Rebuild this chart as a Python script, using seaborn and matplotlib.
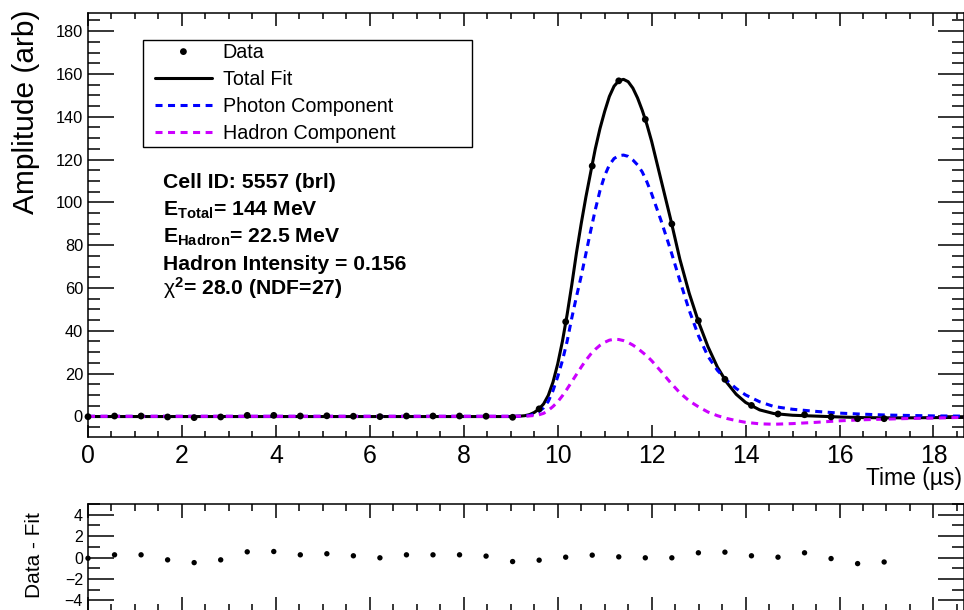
import matplotlib
matplotlib.use("Agg")
import matplotlib.pyplot as plt
import seaborn as sns
from matplotlib.ticker import MultipleLocator, FixedLocator
from matplotlib.patches import Rectangle

# ---- pulse samples (time in µs, amplitude in arbitrary units) ----
sample_time = [0.0, 0.565, 1.13, 1.695, 2.26, 2.825, 3.39, 3.955, 4.52, 5.085,
               5.65, 6.215, 6.78, 7.345, 7.91, 8.475, 9.04, 9.605, 10.17, 10.735,
               11.30, 11.865, 12.43, 12.995, 13.56, 14.125, 14.69, 15.255, 15.82,
               16.385, 16.95]
amplitude = [-0.17, 0.15, 0.15, -0.3, -0.6, -0.3, 0.45, 0.45, 0.15, 0.25,
             0.05, -0.15, 0.15, 0.15, 0.15, 0.05, -0.45, 3.5, 44.2, 117.0,
             156.8, 138.8, 89.9, 44.7, 17.3, 5.1, 1.1, 0.75, -0.25, -1.1,
             -1.1]
residual = [-0.07, 0.25, 0.25, -0.22, -0.48, -0.22, 0.53, 0.56, 0.25, 0.35,
            0.16, -0.03, 0.25, 0.25, 0.25, 0.13, -0.38, -0.25, 0.03, 0.22,
            0.06, -0.03, -0.03, 0.44, 0.5, 0.16, 0.03, 0.44, -0.1, -0.57,
            -0.42]

# ---- fitted pulse shape and its two components ----
fit_time = [0.0, 9.0, 9.2, 9.3, 9.4, 9.5, 9.6, 9.7, 9.8, 9.9,
            10.0, 10.1, 10.2, 10.3, 10.4, 10.5, 10.6, 10.7, 10.8, 10.9,
            11.0, 11.1, 11.2, 11.3, 11.4, 11.5, 11.6, 11.7, 11.8, 11.9,
            12.0, 12.2, 12.4, 12.6, 12.8, 13.0, 13.2, 13.4, 13.6, 13.8,
            14.0, 14.3, 14.6, 15.0, 15.5, 16.0, 16.5, 17.0, 17.5, 18.0,
            18.65]
total_fit = [-0.1, -0.1, 0.1, 0.3, 0.8, 1.8, 3.4, 5.8, 9.8, 16.0,
             24.5, 35.0, 47.5, 61.5, 76.5, 90.0, 102.5, 113.8, 125.0, 134.5,
             142.5, 149.5, 154.3, 156.8, 157.5, 156.4, 153.4, 148.8, 143.0, 136.3,
             128.5, 110.5, 92.5, 73.5, 57.5, 44.0, 32.5, 23.0, 15.8, 10.3,
             6.5, 3.0, 1.3, 0.5, 0.1, -0.3, -0.6, -0.7, -0.7, -0.6,
             -0.5]
photon_fit = [0.0, 0.0, 0.05, 0.15, 0.4, 1.0, 2.2, 4.0, 7.0, 12.0,
              18.5, 26.0, 35.0, 46.0, 56.0, 65.5, 76.0, 86.5, 96.5, 105.5,
              112.5, 117.5, 120.5, 121.8, 122.1, 121.5, 119.8, 117.5, 114.2, 109.5,
              104.0, 91.5, 78.0, 63.5, 49.5, 37.5, 28.0, 21.5, 16.8, 13.0,
              10.0, 6.8, 4.6, 3.3, 2.3, 1.5, 1.0, 0.6, 0.4, 0.2,
              0.1]
hadron_fit = [0.0, 0.0, 0.05, 0.1, 0.2, 0.4, 0.7, 1.4, 2.8, 4.6,
              6.8, 9.6, 12.8, 16.2, 19.6, 23.0, 26.2, 29.0, 31.3, 33.2,
              34.6, 35.6, 36.0, 35.9, 35.4, 34.5, 33.3, 31.8, 30.0, 28.2,
              26.0, 21.0, 15.8, 11.0, 7.2, 4.4, 2.0, 0.3, -1.0, -2.0,
              -2.8, -3.5, -3.7, -3.4, -2.8, -2.1, -1.6, -1.3, -1.0, -0.8,
              -0.5]

# ---- fit summary ----
cell_id = 5557
detector = "brl"
e_total = 144
e_hadron = 22.5
chi2 = 28.0
ndf = 27

sns.set_style("ticks")
plt.rcParams.update({
    "font.family": ["Liberation Sans", "DejaVu Sans"],
    "mathtext.fontset": "custom",
    "mathtext.rm": "Liberation Sans",
    "mathtext.it": "Liberation Sans:italic",
    "mathtext.bf": "Liberation Sans:bold",
    "axes.edgecolor": "black",
    "axes.labelcolor": "black",
    "text.color": "black",
    "xtick.color": "black",
    "ytick.color": "black",
    "axes.unicode_minus": True,
})

W, H = 964, 610
fig = plt.figure(figsize=(W / 100, H / 100), dpi=100)


def fx(px):
    return px / W


def fy(py):
    return 1 - py / H


ax = fig.add_axes([fx(88), fy(437.3), fx(964) - fx(88), fy(13) - fy(437.3)])
rax = fig.add_axes([fx(88), fy(611), fx(964) - fx(88), fy(504) - fy(611)])

dash = (0, (2.3, 1.8))
sns.lineplot(x=fit_time, y=total_fit, ax=ax, color="black", lw=2.2,
             label="Total Fit", zorder=3)
sns.lineplot(x=fit_time, y=photon_fit, ax=ax, color="#0000ff", lw=2.2,
             linestyle=dash, label="Photon Component", zorder=4)
sns.lineplot(x=fit_time, y=hadron_fit, ax=ax, color="#cc00ff", lw=2.2,
             linestyle=dash, label="Hadron Component", zorder=5)
sns.scatterplot(x=sample_time, y=amplitude, ax=ax, color="black", s=24,
                edgecolor="none", linewidth=0, label="Data", zorder=6,
                clip_on=False)

sns.scatterplot(x=sample_time, y=residual, ax=rax, color="black", s=15,
                edgecolor="none", linewidth=0, legend=False, zorder=6,
                clip_on=False)

# ---- main panel axes ----
ax.set_xlim(0, 18.65)
ax.set_ylim(-9.8, 188.5)
ax.set_xlabel("")
ax.set_ylabel("")
ax.xaxis.set_major_locator(MultipleLocator(2))
ax.xaxis.set_minor_locator(MultipleLocator(0.5))
ax.yaxis.set_major_locator(MultipleLocator(20))
ax.yaxis.set_minor_locator(MultipleLocator(5))
ax.tick_params(axis="x", which="major", direction="in", length=9, width=1.1,
               top=True, bottom=True, labelsize=17.8, pad=4.5)
ax.tick_params(axis="x", which="minor", direction="in", length=4.3, width=1.1,
               top=True, bottom=True)
ax.tick_params(axis="y", which="major", direction="in", length=18.7, width=1.1,
               left=True, right=True, labelsize=11.8, pad=3.6)
ax.tick_params(axis="y", which="minor", direction="in", length=8.9, width=1.1,
               left=True, right=True)
for sp in ax.spines.values():
    sp.set_linewidth(1.1)
    sp.set_visible(True)

# ---- residual panel axes ----
rax.set_xlim(0, 18.65)
rax.set_ylim(-5, 5)
rax.set_xlabel("")
rax.set_ylabel("")
rax.xaxis.set_major_locator(MultipleLocator(2))
rax.xaxis.set_minor_locator(MultipleLocator(0.5))
rax.yaxis.set_major_locator(FixedLocator([-4, -2, 0, 2, 4]))
rax.yaxis.set_minor_locator(MultipleLocator(1))
rax.tick_params(axis="x", which="major", direction="in", length=10, width=1.1,
                top=True, bottom=True, labelbottom=False)
rax.tick_params(axis="x", which="minor", direction="in", length=5, width=1.1,
                top=True, bottom=True)
rax.tick_params(axis="y", which="major", direction="in", length=18.7, width=1.1,
                left=True, right=True, labelsize=11.5, pad=3.6)
rax.tick_params(axis="y", which="minor", direction="in", length=8.6, width=1.1,
                left=True, right=True)
for sp in rax.spines.values():
    sp.set_linewidth(1.1)
    sp.set_visible(True)

# ---- legend ----
handles, labels = ax.get_legend_handles_labels()
order = ["Data", "Total Fit", "Photon Component", "Hadron Component"]
ordered = [handles[labels.index(k)] for k in order]
ax.legend(ordered, order, loc="upper left",
          bbox_to_anchor=(fx(155), fy(43.5)), bbox_transform=fig.transFigure,
          frameon=False, borderpad=0, borderaxespad=0, handlelength=2.88,
          handletextpad=0.55, labelspacing=0.39, fontsize=14.2,
          scatterpoints=1, scatteryoffsets=[0.5])
fig.add_artist(Rectangle((fx(142.7), fy(146.7)), fx(471.7) - fx(142.7),
                         fy(40) - fy(146.7), transform=fig.transFigure,
                         fill=False, edgecolor="black", lw=1.0, zorder=7))

# ---- fit summary text ----
info_lines = [
    f"Cell ID: {cell_id} ({detector})",
    r"E$_{\mathbf{Total}}$" + f"= {e_total:g} MeV",
    r"E$_{\mathbf{Hadron}}$" + f"= {e_hadron:g} MeV",
    f"Hadron Intensity = {e_hadron / e_total:.3f}",
    r"$\mathrm{\chi}^{\mathbf{2}}$" + f"= {chi2:.1f} (NDF={ndf})",
]
baselines = [188.5, 216.0, 243.0, 269.5, 295.0]
for line, base in zip(info_lines, baselines):
    fig.text(fx(162.7), fy(base), line, fontsize=15.2, fontweight="bold",
             ha="left", va="baseline")

# ---- axis titles ----
fig.text(fx(33.7), fy(10), "Amplitude (arb)", rotation=90,
         rotation_mode="anchor", ha="right", va="baseline", fontsize=21.5)
fig.text(fx(962.5), fy(485), "Time (µs)", ha="right", va="baseline",
         fontsize=16.5)
fig.text(fx(40), fy(555), "Data - Fit", rotation=90, rotation_mode="anchor",
         ha="center", va="baseline", fontsize=15)

fig.savefig("out.png", dpi=100)
